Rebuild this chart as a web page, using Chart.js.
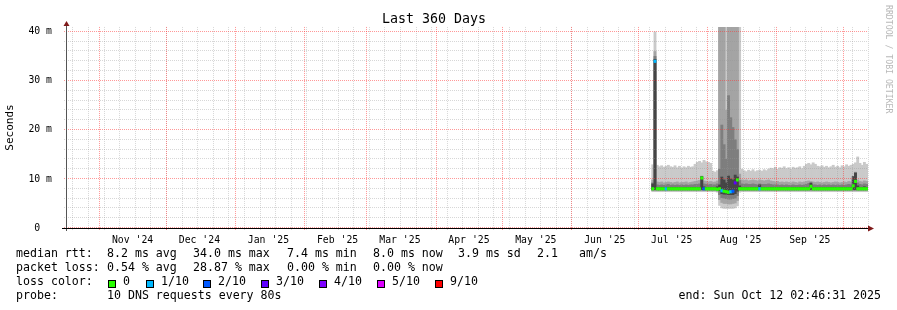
<!DOCTYPE html>
<html>
<head>
<meta charset="utf-8">
<script src="https://cdn.jsdelivr.net/npm/chart.js@4"></script>
<style>
  html, body { margin: 0; padding: 0; background: #fff; }
</style>
</head>
<body>
<canvas id="chart" width="897" height="310"></canvas>
<script>
// one sample per day, first sample 2025-07-07, last 2025-10-11 (values in ms)
const maxRtt = [
  12.9, 40.0, 12.8, 12.5, 12.7, 12.4, 12.6, 12.8, 12.5, 12.4,
  12.7, 12.3, 12.6, 12.2, 12.5, 12.3, 12.6, 12.4, 12.5, 13.0,
  13.4, 13.6, 13.3, 13.8, 13.5, 13.4, 13.2, 11.6, 11.4, 11.7,
  45, 45, 45, 45, 45, 45, 45, 45, 45, 45,
  12.0, 11.7, 11.5, 11.8, 11.6, 11.9, 11.5, 11.7, 11.8, 11.6,
  11.9, 11.7, 12.0, 12.2, 12.1, 12.4, 12.0, 12.3, 12.2, 12.5,
  12.1, 12.3, 12.0, 12.4, 12.2, 12.3, 12.5, 12.1, 12.6, 13.0,
  13.2, 12.9, 13.3, 13.0, 12.6, 12.5, 12.7, 12.4, 12.6, 12.3,
  12.5, 12.8, 12.4, 12.6, 12.3, 12.7, 12.5, 12.9, 12.6, 12.8,
  13.0, 13.3, 14.5, 13.2, 12.8, 13.4, 13.0
];
const hi2 = [
  9.8, 36.0, 9.4, 9.3, 9.4, 9.2, 9.3, 9.4, 9.3, 9.2,
  9.3, 9.4, 9.2, 9.3, 9.3, 9.4, 9.2, 9.3, 9.4, 9.5,
  9.6, 9.7, 10.6, 9.6, 9.5, 9.4, 9.5, 9.3, 9.4, 9.6,
  45, 45, 45, 24.0, 45, 45, 45, 45, 45, 11.0,
  9.8, 9.7, 9.8, 9.6, 9.7, 9.8, 9.7, 9.6, 9.8, 9.7,
  9.6, 9.7, 9.8, 9.6, 9.5, 9.4, 9.5, 9.3, 9.4, 9.3,
  9.4, 9.3, 9.2, 9.4, 9.3, 9.2, 9.4, 9.3, 9.4, 9.5,
  9.6, 9.5, 9.4, 9.3, 9.4, 9.3, 9.2, 9.3, 9.4, 9.3,
  9.2, 9.3, 9.4, 9.3, 9.2, 9.3, 9.4, 9.3, 9.5, 9.4,
  10.2, 11.4, 9.8, 9.5, 9.4, 9.6, 9.5
];
const hi3 = [
  9.2, 35.0, 8.8, 8.7, 8.8, 8.7, 8.8, 8.9, 8.7, 8.8,
  8.7, 8.8, 8.7, 8.8, 8.7, 8.8, 8.7, 8.8, 8.8, 8.9,
  8.9, 9.0, 10.4, 9.0, 8.9, 8.8, 8.9, 8.8, 8.8, 9.0,
  12.0, 21.0, 17.0, 14.0, 27.0, 22.5, 20.5, 18.0, 16.0, 9.7,
  9.0, 8.9, 9.0, 8.9, 8.9, 9.0, 8.9, 8.8, 9.0, 8.9,
  8.9, 8.9, 9.0, 8.9, 8.8, 8.8, 8.8, 8.7, 8.8, 8.7,
  8.8, 8.7, 8.7, 8.8, 8.7, 8.7, 8.8, 8.7, 8.8, 8.9,
  9.1, 8.9, 8.8, 8.8, 8.7, 8.8, 8.7, 8.8, 8.7, 8.8,
  8.7, 8.8, 8.7, 8.8, 8.7, 8.8, 8.7, 8.8, 8.9, 8.8,
  10.0, 11.3, 9.2, 8.9, 8.8, 9.0, 8.9
];
const hi4 = [
  9.0, 34.4, 8.3, 8.3, 8.3, 8.3, 8.3, 8.3, 8.3, 8.3,
  8.3, 8.3, 8.3, 8.3, 8.3, 8.3, 8.3, 8.3, 8.3, 8.3,
  8.3, 8.3, 10.5, 8.4, 8.3, 8.3, 8.3, 8.3, 8.3, 8.4,
  8.8, 10.4, 9.8, 9.2, 10.6, 10.0, 9.8, 10.8, 10.4, 8.6,
  8.3, 8.3, 8.3, 8.3, 8.3, 8.3, 8.3, 8.3, 8.8, 8.3,
  8.3, 8.3, 8.3, 8.3, 8.3, 8.3, 8.3, 8.3, 8.3, 8.3,
  8.3, 8.3, 8.3, 8.3, 8.3, 8.3, 8.3, 8.3, 8.3, 8.3,
  8.3, 9.2, 8.3, 8.3, 8.3, 8.3, 8.3, 8.3, 8.3, 8.3,
  8.3, 8.3, 8.3, 8.3, 8.3, 8.3, 8.3, 8.3, 8.3, 8.3,
  10.5, 11.2, 8.6, 8.3, 8.3, 8.4, 8.3
];
const median = [
  8.0, 34.0, 8.0, 8.0, 8.0, 8.0, 8.0, 8.0, 8.0, 8.0,
  8.0, 8.0, 8.0, 8.0, 8.0, 8.0, 8.0, 8.0, 8.0, 8.0,
  8.0, 8.0, 10.2, 8.0, 8.0, 8.0, 8.0, 8.0, 8.0, 7.9,
  8.0, 7.6, 7.5, 7.4, 7.3, 7.4, 7.5, 9.2, 9.8, 8.0,
  8.0, 8.0, 8.0, 8.0, 8.0, 8.0, 8.0, 8.0, 8.0, 8.0,
  8.0, 8.0, 8.0, 8.0, 8.0, 8.0, 8.0, 8.0, 8.0, 8.0,
  8.0, 8.0, 8.0, 8.0, 8.0, 8.0, 8.0, 8.0, 8.0, 8.0,
  8.0, 8.5, 8.0, 8.0, 8.0, 8.0, 8.0, 8.0, 8.0, 8.0,
  8.0, 8.0, 8.0, 8.0, 8.0, 8.0, 8.0, 8.0, 8.0, 8.0,
  8.6, 9.5, 8.0, 8.0, 8.0, 8.0, 8.0
];
const lo4 = [
  7.85, 7.85, 7.85, 7.85, 7.85, 7.85, 7.85, 7.85, 7.85, 7.85,
  7.85, 7.85, 7.85, 7.85, 7.85, 7.85, 7.85, 7.85, 7.85, 7.85,
  7.85, 7.85, 7.85, 7.85, 7.85, 7.85, 7.85, 7.85, 7.85, 7.8,
  7.6, 7.0, 6.9, 6.9, 6.8, 6.8, 6.8, 7.0, 7.5, 7.85,
  7.85, 7.85, 7.85, 7.85, 7.85, 7.85, 7.85, 7.85, 7.85, 7.85,
  7.85, 7.85, 7.85, 7.85, 7.85, 7.85, 7.85, 7.85, 7.85, 7.85,
  7.85, 7.85, 7.85, 7.85, 7.85, 7.85, 7.85, 7.85, 7.85, 7.85,
  7.85, 7.85, 7.85, 7.85, 7.85, 7.85, 7.85, 7.85, 7.85, 7.85,
  7.85, 7.85, 7.85, 7.85, 7.85, 7.85, 7.85, 7.85, 7.85, 7.85,
  7.85, 7.85, 7.85, 7.85, 7.85, 7.85, 7.85
];
const lo3 = [
  7.75, 7.75, 7.75, 7.75, 7.75, 7.75, 7.75, 7.75, 7.75, 7.75,
  7.75, 7.75, 7.75, 7.75, 7.75, 7.75, 7.75, 7.75, 7.75, 7.75,
  7.75, 7.75, 7.75, 7.75, 7.75, 7.75, 7.75, 7.75, 7.75, 7.7,
  6.8, 6.2, 6.1, 6.0, 5.9, 5.9, 6.0, 6.1, 6.6, 7.75,
  7.75, 7.75, 7.75, 7.75, 7.75, 7.75, 7.75, 7.75, 7.75, 7.75,
  7.75, 7.75, 7.75, 7.75, 7.75, 7.75, 7.75, 7.75, 7.75, 7.75,
  7.75, 7.75, 7.75, 7.75, 7.75, 7.75, 7.75, 7.75, 7.75, 7.75,
  7.75, 7.75, 7.75, 7.75, 7.75, 7.75, 7.75, 7.75, 7.75, 7.75,
  7.75, 7.75, 7.75, 7.75, 7.75, 7.75, 7.75, 7.75, 7.75, 7.75,
  7.75, 7.75, 7.75, 7.75, 7.75, 7.75, 7.75
];
const lo2 = [
  7.6, 7.6, 7.6, 7.6, 7.6, 7.6, 7.6, 7.6, 7.6, 7.6,
  7.6, 7.6, 7.6, 7.6, 7.6, 7.6, 7.6, 7.6, 7.6, 7.6,
  7.6, 7.6, 7.6, 7.6, 7.6, 7.6, 7.6, 7.6, 7.6, 7.5,
  5.8, 5.2, 5.0, 5.0, 4.9, 4.9, 5.0, 5.1, 5.6, 7.6,
  7.6, 7.6, 7.6, 7.6, 7.6, 7.6, 7.6, 7.6, 7.6, 7.6,
  7.6, 7.6, 7.6, 7.6, 7.6, 7.6, 7.6, 7.6, 7.6, 7.6,
  7.6, 7.6, 7.6, 7.6, 7.6, 7.6, 7.6, 7.6, 7.6, 7.6,
  7.6, 7.6, 7.6, 7.6, 7.6, 7.6, 7.6, 7.6, 7.6, 7.6,
  7.6, 7.6, 7.6, 7.6, 7.6, 7.6, 7.6, 7.6, 7.6, 7.6,
  7.6, 7.6, 7.6, 7.6, 7.6, 7.6, 7.6
];
const minRtt = [
  7.4, 7.4, 7.4, 7.4, 7.4, 7.4, 7.4, 7.4, 7.4, 7.4,
  7.4, 7.4, 7.4, 7.4, 7.4, 7.4, 7.4, 7.4, 7.4, 7.4,
  7.4, 7.4, 7.4, 7.4, 7.4, 7.4, 7.4, 7.4, 7.4, 7.3,
  4.6, 4.1, 4.0, 4.0, 4.0, 4.0, 4.0, 4.1, 4.5, 7.3,
  7.4, 7.4, 7.4, 7.4, 7.4, 7.4, 7.4, 7.4, 7.4, 7.4,
  7.4, 7.4, 7.4, 7.4, 7.4, 7.4, 7.4, 7.4, 7.4, 7.4,
  7.4, 7.4, 7.4, 7.4, 7.4, 7.4, 7.4, 7.4, 7.4, 7.4,
  7.4, 7.4, 7.4, 7.4, 7.4, 7.4, 7.4, 7.4, 7.4, 7.4,
  7.4, 7.4, 7.4, 7.4, 7.4, 7.4, 7.4, 7.4, 7.4, 7.4,
  7.4, 7.4, 7.4, 7.4, 7.4, 7.4, 7.4
];
// lost pings out of 10 per sample
const loss = [
  0, 1, 0, 0, 0, 0, 1, 0, 0, 0,
  0, 0, 0, 0, 0, 0, 0, 0, 0, 0,
  0, 0, 0, 2, 0, 0, 0, 0, 0, 0,
  0, 1, 0, 0, 0, 1, 2, 3, 0, 0,
  0, 0, 0, 0, 0, 0, 0, 0, 1, 0,
  0, 0, 0, 0, 0, 0, 0, 0, 0, 0,
  0, 0, 0, 0, 0, 0, 0, 0, 0, 0,
  0, 0, 0, 0, 0, 0, 0, 0, 0, 0,
  0, 0, 0, 0, 0, 0, 0, 0, 0, 0,
  0, 0, 0, 0, 0, 0, 0
];

const monthLabels = ["Nov '24", "Dec '24", "Jan '25", "Feb '25", "Mar '25", "Apr '25",
  "May '25", "Jun '25", "Jul '25", "Aug '25", "Sep '25"];
const yMajor = [0, 10, 20, 30, 40];
const yMinor = [2, 4, 6, 8, 12, 14, 16, 18, 22, 24, 26, 28, 32, 34, 36, 38];

const lossLevels = [0, 1, 2, 3, 4, 5, 9];
const lossLabels = ['0', '1/10', '2/10', '3/10', '4/10', '5/10', '9/10'];
const lossColors = ['#26ff00', '#00b8ff', '#0059ff', '#5e00ff', '#7e00ff', '#dd00ff', '#ff0000'];

const rttStats = ['8.2 ms avg', '34.0 ms max', '7.4 ms min', '8.0 ms now', '3.9 ms sd', '2.1', 'am/s'];
const lossStats = ['0.54 % avg', '28.87 % max', '0.00 % min', '0.00 % now'];
const probeText = '10 DNS requests every 80s';
const endText = 'end: Sun Oct 12 02:46:31 2025';

const DAY = 86400000;
const endMs = Date.UTC(2025, 9, 12, 2, 46, 31);
const startMs = endMs - 360 * DAY;
const firstSample = Date.UTC(2025, 6, 7, 12);
const sampleTime = i => firstSample + i * DAY;

const MONO = '"DejaVu Sans Mono", monospace';
const minorGrid = 'rgba(150,150,150,0.38)';
const majorGrid = 'rgba(255,50,50,0.5)';

// weekly minor lines, monthly major lines, month labels mid-month
const weekLines = [];
for (let t = Date.UTC(2024, 9, 20); t < endMs; t += 7 * DAY) weekLines.push(t);
const monthLines = [];
for (let m = 0; m < 12; m++) monthLines.push(Date.UTC(2024, 10 + m, 1));
const labelTicks = monthLabels.map((lab, m) => ({ value: Date.UTC(2024, 10 + m, 16), text: lab }));

function band(lo, hi) {
  return lo.map((v, i) => ({ x: sampleTime(i), y: [v, hi[i]] }));
}

const smoke = [
  { lo: minRtt, hi: maxRtt, color: '#cacaca' },
  { lo: lo2, hi: hi2, color: '#a4a4a4' },
  { lo: lo3, hi: hi3, color: '#7e7e7e' },
  { lo: lo4, hi: hi4, color: '#454545' }
];

const datasets = smoke.map((s, k) => ({
  data: band(s.lo, s.hi),
  backgroundColor: s.color,
  order: 10 - k
}));
datasets.push({
  data: median.map((m, i) => ({ x: sampleTime(i), y: [m - 0.25, m + 0.25] })),
  backgroundColor: loss.map(l => lossColors[lossLevels.indexOf(l)]),
  order: 1
});
const MEDIAN_INDEX = datasets.length - 1;
datasets.forEach(d => {
  d.grouped = false;
  d.barPercentage = 1;
  d.categoryPercentage = 1;
  d.borderWidth = 0;
});

// rrdtool-style dotted grid: over the smoke, under the median line
const rrdGrid = {
  id: 'rrdGrid',
  beforeDatasetDraw(chart, args) {
    if (args.index !== MEDIAN_INDEX) return;
    const c = chart.ctx, a = chart.chartArea, xs = chart.scales.x, ys = chart.scales.y;
    c.save();
    c.lineWidth = 1;
    c.setLineDash([1, 1]);
    const vline = (v, col) => {
      const px = Math.round(xs.getPixelForValue(v)) + 0.5;
      c.strokeStyle = col;
      c.beginPath(); c.moveTo(px, a.top); c.lineTo(px, a.bottom + 3); c.stroke();
    };
    const hline = (v, col) => {
      const py = Math.round(ys.getPixelForValue(v)) - 0.5;
      c.strokeStyle = col;
      c.beginPath(); c.moveTo(a.left - 2, py); c.lineTo(a.right, py); c.stroke();
    };
    weekLines.forEach(v => vline(v, minorGrid));
    yMinor.forEach(v => hline(v, minorGrid));
    monthLines.forEach(v => vline(v, majorGrid));
    yMajor.forEach(v => hline(v, majorGrid));
    c.restore();
  }
};

const decor = {
  id: 'decor',
  afterDraw(chart) {
    const c = chart.ctx, a = chart.chartArea;
    c.save();
    c.lineWidth = 1;
    c.strokeStyle = '#555';
    c.beginPath(); c.moveTo(a.left + 0.5, a.bottom + 3); c.lineTo(a.left + 0.5, a.top - 4); c.stroke();
    c.strokeStyle = '#000';
    c.beginPath(); c.moveTo(a.left - 4, a.bottom + 0.5); c.lineTo(a.right + 1, a.bottom + 0.5); c.stroke();
    c.fillStyle = '#7f1a1a';
    c.beginPath(); c.moveTo(a.left - 2.5, a.top - 1); c.lineTo(a.left + 3.5, a.top - 1); c.lineTo(a.left + 0.5, a.top - 6); c.closePath(); c.fill();
    c.beginPath(); c.moveTo(a.right, a.bottom - 2.5); c.lineTo(a.right, a.bottom + 3.5); c.lineTo(a.right + 6, a.bottom + 0.5); c.closePath(); c.fill();

    // watermark
    c.save();
    c.translate(888, 5);
    c.rotate(Math.PI / 2);
    c.font = '8.2px ' + MONO;
    c.fillStyle = '#b8b8b8';
    c.textBaseline = 'middle';
    c.fillText('RRDTOOL / TOBI OETIKER', 0, 0);
    c.restore();

    // legend
    c.font = '11.6px ' + MONO;
    c.fillStyle = '#000';
    c.textBaseline = 'alphabetic';
    c.textAlign = 'left';
    const cols = [107, 193, 287, 373, 458, 537, 579];
    c.fillText('median rtt:', 16, 257);
    rttStats.forEach((s, i) => c.fillText(s, cols[i], 257));
    c.fillText('packet loss:', 16, 271);
    lossStats.forEach((s, i) => c.fillText(s, cols[i], 271));
    c.fillText('loss color:', 16, 285);
    const sq = [108, 146, 203, 261, 319, 377, 435];
    lossLabels.forEach((lab, i) => {
      c.fillStyle = lossColors[i];
      c.fillRect(sq[i], 280, 8, 8);
      c.strokeStyle = '#000';
      c.strokeRect(sq[i] + 0.5, 280.5, 7, 7);
      c.fillStyle = '#000';
      c.fillText(lab, sq[i] + 15, 285);
    });
    c.fillText('probe:', 16, 299);
    c.fillText(probeText, 107, 299);
    c.textAlign = 'right';
    c.fillText(endText, 881, 299);
    c.restore();
  }
};

new Chart(document.getElementById('chart'), {
  type: 'bar',
  data: { datasets },
  plugins: [rrdGrid, decor],
  options: {
    responsive: false,
    animation: false,
    devicePixelRatio: 1,
    layout: { padding: { left: 0, right: 29, top: 0, bottom: 0 } },
    plugins: {
      legend: { display: false },
      tooltip: { enabled: false },
      title: {
        display: true,
        text: 'Last 360 Days',
        color: '#000',
        font: { family: MONO, size: 13.3, weight: 'normal', lineHeight: 1.05 },
        padding: { top: 13, bottom: 0 }
      }
    },
    scales: {
      x: {
        type: 'linear',
        min: startMs,
        max: endMs,
        offset: false,
        afterBuildTicks: s => { s.ticks = labelTicks.map(t => ({ value: t.value })); },
        afterFit: s => { s.height = 82; },
        grid: { display: false, offset: false },
        border: { display: false },
        ticks: {
          autoSkip: false,
          maxRotation: 0,
          padding: -1,
          color: '#000',
          font: { family: MONO, size: 9.8 },
          callback: (v, i) => labelTicks[i].text
        }
      },
      y: {
        min: 0,
        max: 41,
        afterBuildTicks: s => { s.ticks = yMajor.map(v => ({ value: v })); },
        afterFit: s => { s.width = 66; },
        grid: { display: false },
        border: { display: false },
        ticks: {
          autoSkip: false,
          padding: 6,
          color: '#000',
          font: { family: MONO, size: 9.8 },
          callback: v => v === 0 ? '0  ' : v + ' m'
        },
        title: {
          display: true,
          text: 'Seconds',
          color: '#000',
          font: { family: MONO, size: 11 },
          padding: { top: 4, bottom: 0 }
        }
      }
    }
  }
});
</script>
</body>
</html>
